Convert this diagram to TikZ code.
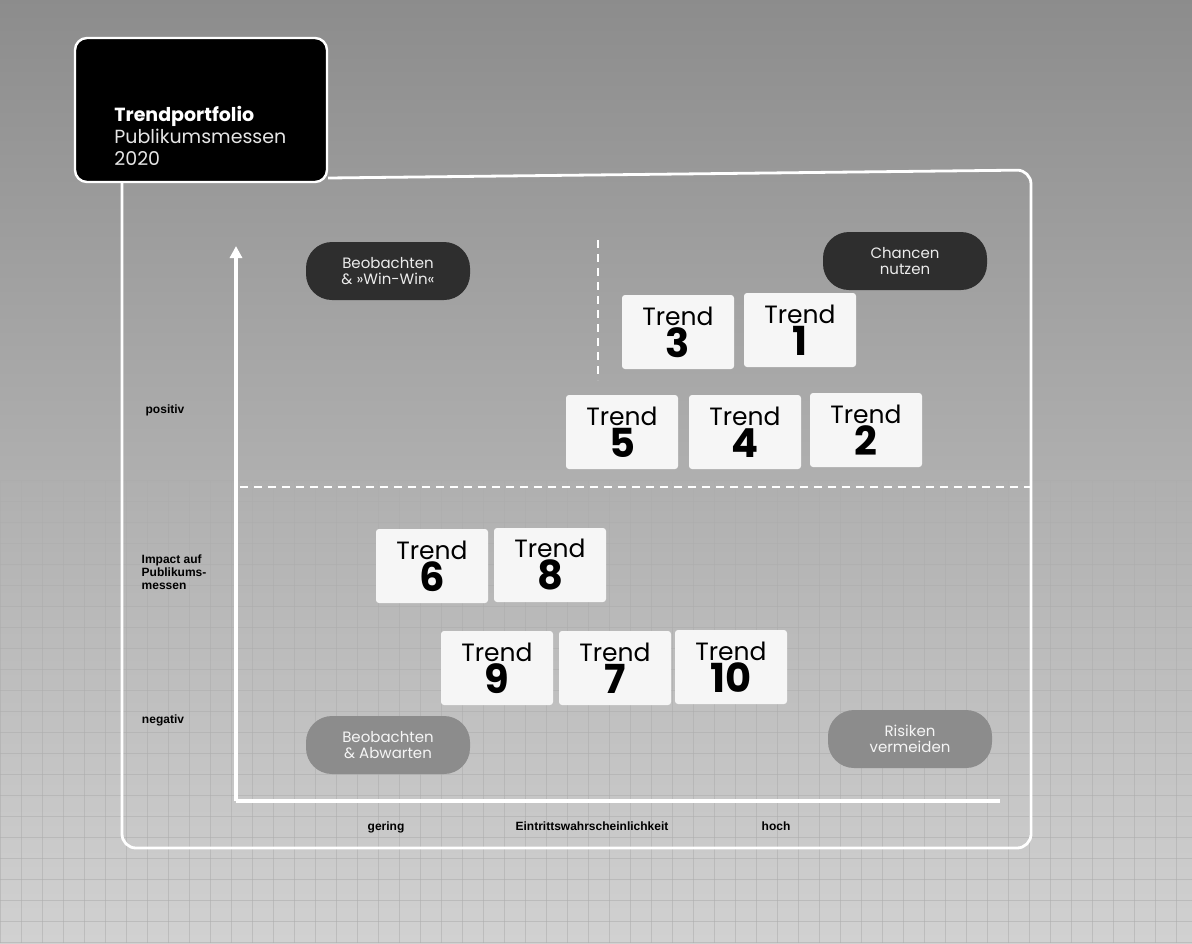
\documentclass[tikz,border=0pt]{standalone}
\usepackage{fontspec}
\setmainfont{Poppins}
\newfontfamily\labelfont{Liberation Sans}
\usetikzlibrary{arrows.meta}

\begin{document}
\begin{tikzpicture}[x=0.5pt, y=-0.5pt, >={Triangle[width=6pt,length=6pt]},
    frame/.style={white, line width=1.4pt, rounded corners=7pt},
    axisline/.style={white, line width=1.8pt},
    gridline/.style={black!32, line width=0.35pt, opacity=0.55},
    trendbox/.style={fill=white!93!gray, rounded corners=1.5pt, minimum width=56pt,
      minimum height=37pt, inner sep=0pt, align=center, font=\fontsize{12.5}{16}\selectfont},
    darkpill/.style={fill=black!82, rounded corners=13pt, minimum width=82pt,
      minimum height=29pt, inner sep=1pt, align=center, text=white!85!gray,
      font=\fontsize{7.5}{8}\selectfont},
    greypill/.style={darkpill, fill=black!45, text=white!92!gray},
    axislabel/.style={font=\labelfont\bfseries\fontsize{6}{6.6}\selectfont, align=left}]

    % Hintergrund
    \useasboundingbox (0,0) rectangle (1192,943);
    \shade[top color=black!45, middle color=black!42, bottom color=black!18] (0,0) rectangle (1192,943);
    \foreach \gx in {0,21,...,1192} \draw[gridline] (\gx,480) -- (\gx,943);
    \foreach \gy in {480,501,...,943} \draw[gridline] (0,\gy) -- (1192,\gy);

    % Titelbox
    \node[fill=black, draw=white!90, line width=1.2pt, rounded corners=6pt,
      minimum width=126pt, minimum height=72pt] (title) at (201,110) {};
    \node[anchor=north west, align=left, text=white, inner sep=0pt,
      font=\fontsize{9.5}{11}\selectfont] (titletext) at (114,106)
      {\textbf{Trendportfolio}\\ \textcolor{white!80!gray}{Publikumsmessen}\\ \textcolor{white!80!gray}{2020}};

    % Rahmen
    \draw[frame] (title.east |- 0,178) -- (1031,170) -- (1031,848) -- (122,848) -- (title.south -| 122,0);

    % Achsen
    \coordinate (origin) at (236,801);
    \coordinate (ytop) at (236,246);
    \coordinate (xend) at (1000,801);
    \draw[axisline, ->] (origin) -- (ytop);
    \draw[axisline] (origin) -- (xend);

    % Trennlinien
    \draw[white, line width=1pt, dash pattern=on 4pt off 3pt] (240,487) -- (1031,487);
    \draw[white, line width=1pt, dash pattern=on 4pt off 3pt] (598,240) -- (598,380);

    % Strategien
    \node[darkpill] (winwin) at (388,271) {Beobachten\\ \& »Win-Win«};
    \node[darkpill] (chancen) at (905,261) {Chancen\\ nutzen};
    \node[greypill] (abwarten) at (388,745) {Beobachten\\ \& Abwarten};
    \node[greypill] (risiken) at (910,739) {Risiken\\ vermeiden};

    % Trends
    \foreach \num/\px/\py in {3/678/332, 1/800/330, 5/622/432, 4/745/432, 2/866/430,
                              6/432/566, 8/550/565, 9/497/668, 7/615/668, 10/731/667}
      \node[trendbox] (trend\num) at (\px,\py)
        {Trend\\{\fontsize{20}{16}\selectfont\bfseries \num}};

    % Achsenbeschriftung
    \node[axislabel] (positiv) at (165,410) {positiv};
    \node[axislabel] (impact) at (174,572) {Impact auf\\Publikums-\\messen};
    \node[axislabel] (negativ) at (163,720) {negativ};
    \node[axislabel] (gering) at (386,827) {gering};
    \node[axislabel] (eintritt) at (592,826) {Eintrittswahrscheinlichkeit};
    \node[axislabel] (hoch) at (776,826) {hoch};
\end{tikzpicture}
\end{document}
